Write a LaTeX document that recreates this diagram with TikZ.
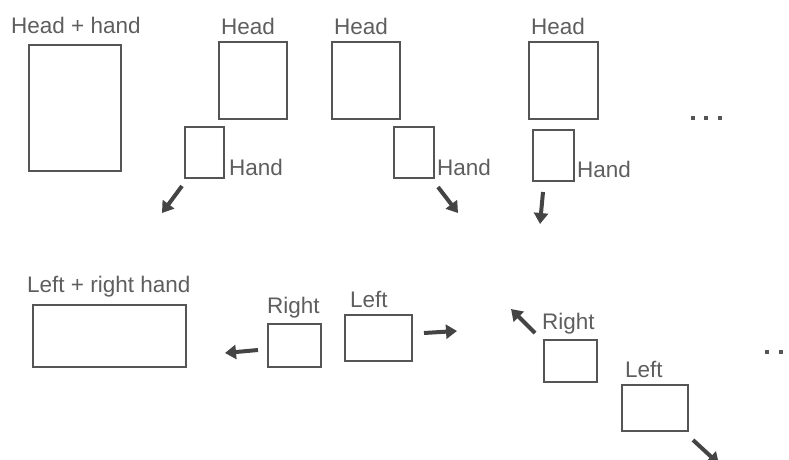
\documentclass[tikz,border=0pt]{standalone}
\usepackage{fontspec}
\setmainfont{Liberation Sans}
\usetikzlibrary{arrows.meta}
\definecolor{boxgray}{HTML}{555555}
\definecolor{txtgray}{HTML}{5E5E5E}
\definecolor{arrgray}{HTML}{444444}
\begin{document}
\begin{tikzpicture}[x=1pt,y=-1pt,
  box/.style={draw=boxgray,line width=2.4pt,rectangle,inner sep=0pt,fill=white},
  lbl/.style={anchor=base west,inner sep=0pt,text=txtgray,font=\fontsize{22.5}{26}\selectfont},
  arr/.style={draw=arrgray,line width=4pt,-{Triangle[width=14pt,length=11pt]}},
  dot/.style={fill=boxgray,rectangle,minimum size=4pt,inner sep=0pt}]
\useasboundingbox (0,0) rectangle (789,459);
\clip (0,0) rectangle (789,459);
% top row boxes
\node[box,minimum width=92pt,minimum height=126pt] (hh) at (75,108) {};
\node[box,minimum width=68pt,minimum height=77pt] (head1) at (253,80.5) {};
\node[box,minimum width=39pt,minimum height=51pt] (hand1) at (204.5,152.5) {};
\node[box,minimum width=68pt,minimum height=77pt] (head2) at (366,80.5) {};
\node[box,minimum width=40pt,minimum height=51pt] (hand2) at (414,152.5) {};
\node[box,minimum width=69pt,minimum height=77pt] (head3) at (563.5,80.5) {};
\node[box,minimum width=41pt,minimum height=51pt] (hand3) at (553.5,155.5) {};
% bottom row boxes
\node[box,minimum width=153pt,minimum height=62pt] (lr) at (109.5,336) {};
\node[box,minimum width=53pt,minimum height=43pt] (right1) at (294.5,345.5) {};
\node[box,minimum width=67pt,minimum height=46pt] (left1) at (378.5,338) {};
\node[box,minimum width=53pt,minimum height=42pt] (right2) at (570.5,361) {};
\node[box,minimum width=66pt,minimum height=46pt] (left2) at (655,408) {};
% labels
\node[lbl] (lhh) at (11,33) {Head + hand};
\node[lbl] (lhead1) at (221,34) {Head};
\node[lbl] (lhead2) at (334,34) {Head};
\node[lbl] (lhead3) at (531,34) {Head};
\node[lbl] (lhand1) at (229,175) {Hand};
\node[lbl] (lhand2) at (437,175) {Hand};
\node[lbl] (lhand3) at (577,177) {Hand};
\node[lbl] (llr) at (27,292) {Left + right hand};
\node[lbl] (lright1) at (267,313) {Right};
\node[lbl] (lleft1) at (350,307) {Left};
\node[lbl] (lright2) at (542,329) {Right};
\node[lbl] (lleft2) at (625,377) {Left};
% dots
\node[dot] (d1) at (693,118) {};
\node[dot] (d2) at (706,118) {};
\node[dot] (d3) at (720,118) {};
\node[dot] (d4) at (767,352) {};
\node[dot] (d5) at (781,352) {};
% arrows
\coordinate (a1s) at (182,186); \coordinate (a1e) at (162,213);
\coordinate (a2s) at (438,187); \coordinate (a2e) at (458,213);
\coordinate (a3s) at (543,192); \coordinate (a3e) at (540,224);
\coordinate (a4s) at (258,350); \coordinate (a4e) at (225,353);
\coordinate (a5s) at (424,333); \coordinate (a5e) at (457,331);
\coordinate (a6s) at (535,333); \coordinate (a6e) at (511,309);
\coordinate (a7s) at (693,440); \coordinate (a7e) at (719,464);
\draw[arr] (a1s) -- (a1e);
\draw[arr] (a2s) -- (a2e);
\draw[arr] (a3s) -- (a3e);
\draw[arr] (a4s) -- (a4e);
\draw[arr] (a5s) -- (a5e);
\draw[arr] (a6s) -- (a6e);
\draw[arr] (a7s) -- (a7e);
\end{tikzpicture}
\end{document}
